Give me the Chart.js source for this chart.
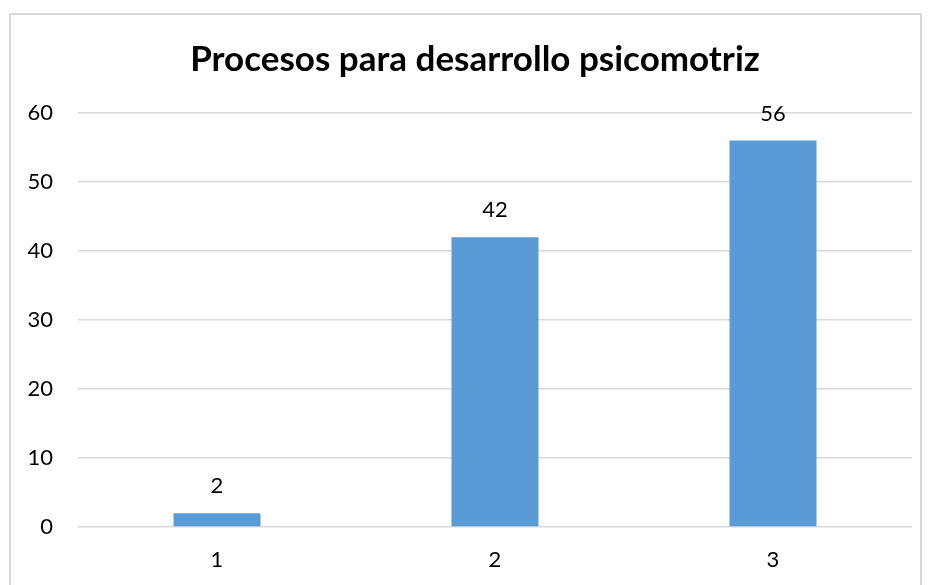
<!DOCTYPE html>
<html>
<head>
<meta charset="utf-8">
<script src="https://cdn.jsdelivr.net/npm/chart.js@4/dist/chart.umd.min.js"></script>
<style>
    body{ margin:0; background:#fff; }
    #marco{ position:absolute; left:9px; top:13px; width:913px; height:600px; border:2px solid #d9d9d9; box-sizing:border-box; }
    #wrap{ position:absolute; left:0; top:0; width:930px; height:585px; }
</style>
</head>
<body>
<div id="marco"></div>
<div id="wrap"><canvas id="grafico"></canvas></div>
<script>
const titulo = 'Procesos para desarrollo psicomotriz';
const categorias = ['1', '2', '3'];
const valores = [2, 42, 56];
const yMin = 0;
const yMax = 60;
const yPaso = 10;

const fuente = 'Lato, "Open Sans", sans-serif';

// titulo centrado sobre el marco, y etiquetas encima de cada barra
const etiquetasPlugin = {
    id: 'etiquetas',
    afterDatasetsDraw(chart){
        const ctx = chart.ctx;
        const meta = chart.getDatasetMeta(0);
        ctx.save();
        ctx.fillStyle = '#000';
        ctx.textAlign = 'center';
        ctx.textBaseline = 'middle';
        ctx.font = 'bold 35px ' + fuente;
        ctx.fillText(titulo, 475, 60);
        ctx.font = '22px ' + fuente;
        meta.data.forEach((bar, i) => {
            ctx.fillText(String(valores[i]), bar.x, bar.y - 27);
        });
        ctx.restore();
    }
};

new Chart(document.getElementById('grafico'), {
    type: 'bar',
    data: {
        labels: categorias,
        datasets: [{
            data: valores,
            backgroundColor: '#5b9bd5',
            categoryPercentage: 1,
            barPercentage: 0.313
        }]
    },
    options: {
        responsive: true,
        maintainAspectRatio: false,
        animation: false,
        layout: { padding: { left: 0, right: 18, top: 113, bottom: 0 } },
        plugins: {
            legend: { display: false },
            tooltip: { enabled: false },
            title: { display: false }
        },
        scales: {
            x: {
                grid: { display: false },
                border: { display: false },
                ticks: { color: '#000', font: { family: fuente, size: 22 }, padding: 12 },
                afterFit(axis){ axis.height = 58; }
            },
            y: {
                min: yMin,
                max: yMax,
                border: { display: false },
                grid: { color: '#d9d9d9', lineWidth: 1.5, drawTicks: false },
                ticks: { stepSize: yPaso, color: '#000', font: { family: fuente, size: 22 }, padding: 25 },
                afterFit(axis){ axis.width = 78; }
            }
        }
    },
    plugins: [etiquetasPlugin]
});
</script>
</body>
</html>
